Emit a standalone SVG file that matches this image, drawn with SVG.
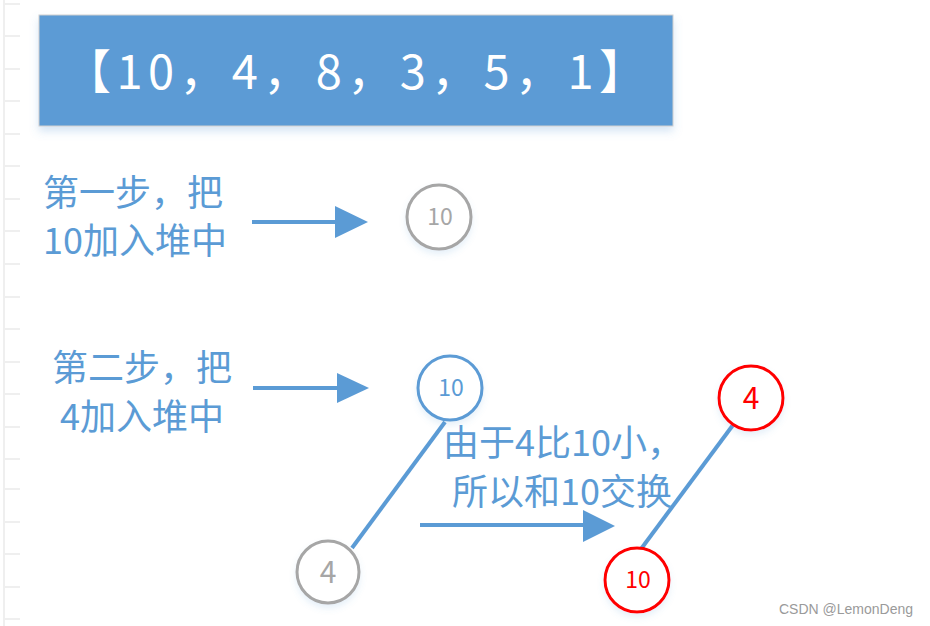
<svg xmlns="http://www.w3.org/2000/svg" width="930" height="626" viewBox="0 0 930 626">
<style>
.cjk{font-family:"Noto Sans CJK SC","Noto Sans",sans-serif;}
.lbl{font-size:36px;fill:#5B9BD5;}
.edge{stroke:#5B9BD5;stroke-width:4;fill:none;}
.arrow{stroke:#5B9BD5;stroke-width:4;fill:none;}
.head{fill:#5B9BD5;}
.node{fill:#fff;stroke-width:3;filter:url(#sh);}
.tick{stroke:#efefef;stroke-width:2;}
</style>
<defs>
<filter id="sh" x="-30%" y="-30%" width="160%" height="170%">
<feDropShadow dx="0" dy="4" stdDeviation="3" flood-color="#5B9BD5" flood-opacity="0.15"/>
</filter>
<filter id="bsh" x="-5%" y="-10%" width="110%" height="140%">
<feDropShadow dx="0" dy="5" stdDeviation="4" flood-color="#5B9BD5" flood-opacity="0.25"/>
</filter>
</defs>
<rect width="930" height="626" fill="#fff"/>
<g id="ruler">
<line class="tick" x1="4" y1="0" x2="4" y2="626"/>
<line class="tick" x1="4" y1="4" x2="20" y2="4"/>
<line class="tick" x1="4" y1="36" x2="20" y2="36"/>
<line class="tick" x1="4" y1="69" x2="20" y2="69"/>
<line class="tick" x1="4" y1="101" x2="20" y2="101"/>
<line class="tick" x1="4" y1="134" x2="20" y2="134"/>
<line class="tick" x1="4" y1="166" x2="20" y2="166"/>
<line class="tick" x1="4" y1="199" x2="20" y2="199"/>
<line class="tick" x1="4" y1="231" x2="20" y2="231"/>
<line class="tick" x1="4" y1="264" x2="20" y2="264"/>
<line class="tick" x1="4" y1="297" x2="20" y2="297"/>
<line class="tick" x1="4" y1="329" x2="20" y2="329"/>
<line class="tick" x1="4" y1="362" x2="20" y2="362"/>
<line class="tick" x1="4" y1="394" x2="20" y2="394"/>
<line class="tick" x1="4" y1="427" x2="20" y2="427"/>
<line class="tick" x1="4" y1="459" x2="20" y2="459"/>
<line class="tick" x1="4" y1="489" x2="20" y2="489"/>
<line class="tick" x1="4" y1="522" x2="20" y2="522"/>
<line class="tick" x1="4" y1="554" x2="20" y2="554"/>
<line class="tick" x1="4" y1="587" x2="20" y2="587"/>
<line class="tick" x1="4" y1="619" x2="20" y2="619"/>
</g>
<g id="title">
<rect x="39" y="15" width="634" height="111" fill="#5B9BD5" stroke="#d0d0d0" stroke-width="1" filter="url(#bsh)"/>
<text class="cjk" x="64" y="89" font-size="47" fill="#fff" textLength="582" lengthAdjust="spacing">【10，4，8，3，5，1】</text>
</g>
<g id="step1-label" class="cjk lbl">
<text x="43" y="206">第一步，把</text>
<text x="43" y="254">10加入堆中</text>
</g>
<g id="step2-label" class="cjk lbl">
<text x="142" y="381" text-anchor="middle">第二步，把</text>
<text x="142" y="430" text-anchor="middle">4加入堆中</text>
</g>
<g id="swap-label" class="cjk lbl">
<text x="443" y="456">由于4比10小，</text>
<text x="452" y="505">所以和10交换</text>
</g>
<g id="connectors">
<line class="arrow" x1="252" y1="222" x2="337" y2="222"/>
<polygon class="head" points="335,206 368,222 335,238"/>
<line class="arrow" x1="253" y1="388" x2="339" y2="388"/>
<polygon class="head" points="337,373 369,388 337,403"/>
<line class="arrow" x1="420" y1="525" x2="585" y2="525"/>
<polygon class="head" points="583,510 615,526 583,542"/>
<line class="edge" x1="445" y1="422" x2="352" y2="548"/>
<line class="edge" x1="733" y1="425" x2="641" y2="549"/>
</g>
<g id="n1-10">
<circle class="node" cx="439" cy="217" r="32" stroke="#A6A6A6"/>
<text class="cjk" x="440" y="225" font-size="23" fill="#A6A6A6" text-anchor="middle">10</text>
</g>
<g id="n2-10">
<circle class="node" cx="450" cy="388" r="32" stroke="#5B9BD5"/>
<text class="cjk" x="451" y="396" font-size="23" fill="#5B9BD5" text-anchor="middle">10</text>
</g>
<g id="n2-4">
<circle class="node" cx="328" cy="572" r="31" stroke="#A6A6A6"/>
<text class="cjk" x="328" y="583" font-size="30" fill="#A6A6A6" text-anchor="middle">4</text>
</g>
<g id="n3-4">
<circle class="node" cx="751" cy="398" r="32" stroke="#FF0000"/>
<text class="cjk" x="751" y="409" font-size="30" fill="#FF0000" text-anchor="middle">4</text>
</g>
<g id="n3-10">
<circle class="node" cx="637" cy="580" r="32" stroke="#FF0000"/>
<text class="cjk" x="638" y="588" font-size="23" fill="#FF0000" text-anchor="middle">10</text>
</g>
<text x="913" y="614" font-family="Liberation Sans,Arial,sans-serif" font-size="14" fill="#9a9a9a" text-anchor="end">CSDN @LemonDeng</text>
</svg>
